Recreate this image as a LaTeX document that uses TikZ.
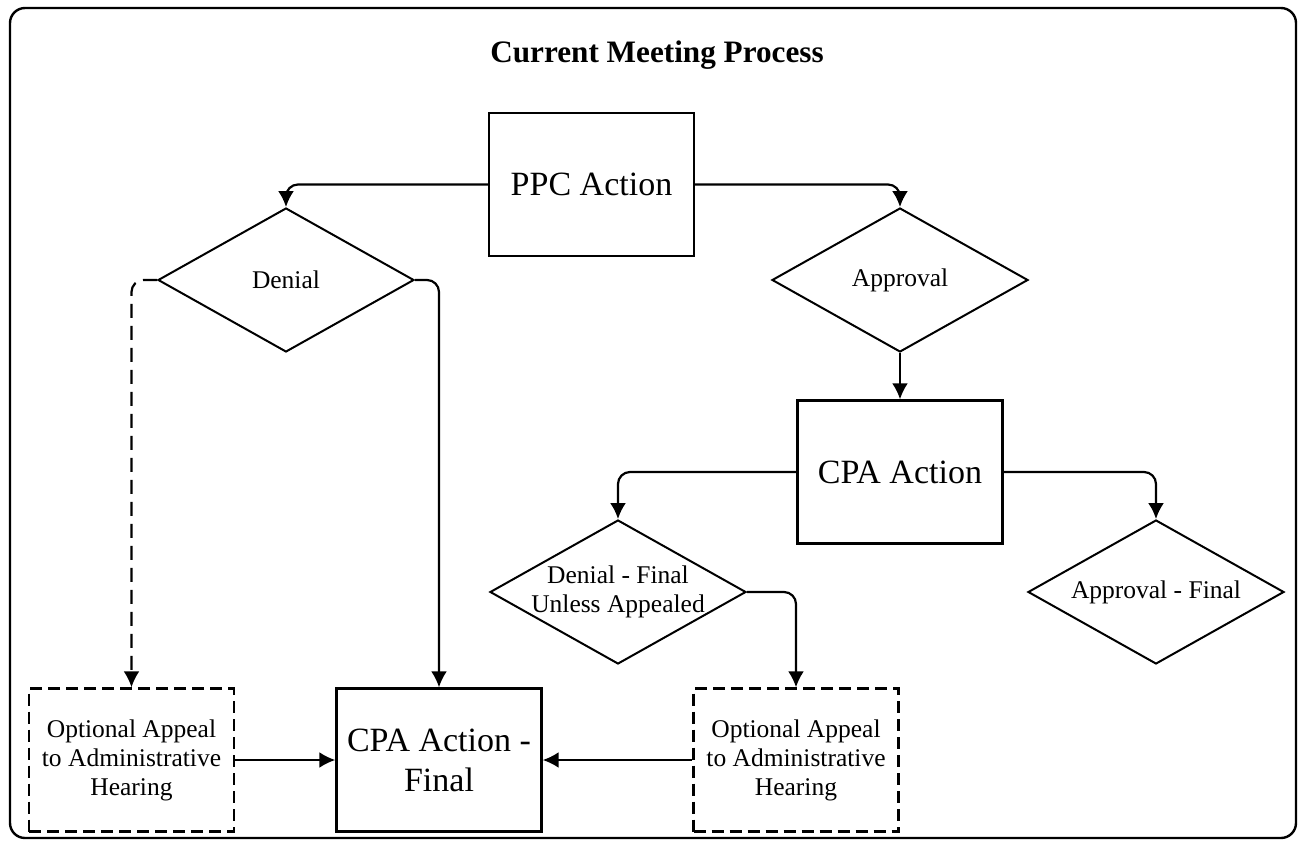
\documentclass[tikz,border=0pt]{standalone}
\usepackage{fontspec}
\setmainfont{Liberation Serif}
\usetikzlibrary{shapes.geometric,arrows.meta}

\begin{document}
\begin{tikzpicture}[
	x=0.5pt, y=-0.5pt,
	action/.style = {draw, line width=1.2pt, minimum width=102.5pt, minimum height=71.5pt, inner sep=0pt, align=center, font=\fontsize{17}{20}\selectfont},
	optional/.style = {action, dash pattern=on 6pt off 3pt, font=\fontsize{12.75}{14.5}\selectfont},
	choice/.style = {draw, diamond, line width=1pt, minimum width=128pt, minimum height=72pt, inner sep=0pt},
	choice text/.style = {font=\fontsize{12.75}{14.5}\selectfont, align=center},
	link/.style = {line width=1.1pt, rounded corners=6pt, -{Latex[length=8pt,width=8pt]}},
	]
	\useasboundingbox (0,0) rectangle (1302,846);
	\draw[line width=1.2pt, rounded corners=7.5pt] (10,8) rectangle (1296,838);

	\node[font=\fontsize{15.6}{18}\selectfont\bfseries, anchor=base] (title) at (657,62) {Current Meeting Process};

	\node[action] (ppc) at (591.5,184.5) {PPC Action};
	\node[choice, label={[choice text]center:Denial}] (denial) at (286,280) {};
	\node[choice, label={[choice text]center:Approval}] (approval) at (900,280) {};
	\node[action] (cpa) at (900,472) {CPA Action};
	\node[choice, label={[choice text]center:Denial - Final\\Unless Appealed}] (denial final) at (618,592) {};
	\node[choice, label={[choice text]center:Approval - Final}] (approval final) at (1156,592) {};
	\node[optional] (appeal left) at (131.5,760) {Optional Appeal\\to Administrative\\Hearing};
	\node[action] (cpa final) at (439,760) {CPA Action -\\Final};
	\node[optional] (appeal right) at (796,760) {Optional Appeal\\to Administrative\\Hearing};

	% PPC decision
	\draw[link] (ppc.west) -| (denial.north);
	\draw[link] (ppc.east) -| (approval.north);
	\draw[link, dash pattern=on 7pt off 4pt] (denial.west) -| (appeal left.north);
	\draw[link] (denial.east) -| (cpa final.north);
	\draw[link] (approval.south) -- (cpa.north);
	% CPA decision
	\draw[link] (cpa.west) -| (denial final.north);
	\draw[link] (cpa.east) -| (approval final.north);
	\draw[link] (denial final.east) -| (appeal right.north);
	\draw[link] (appeal left.east) -- (cpa final.west);
	\draw[link] (appeal right.west) -- (cpa final.east);
\end{tikzpicture}
\end{document}
